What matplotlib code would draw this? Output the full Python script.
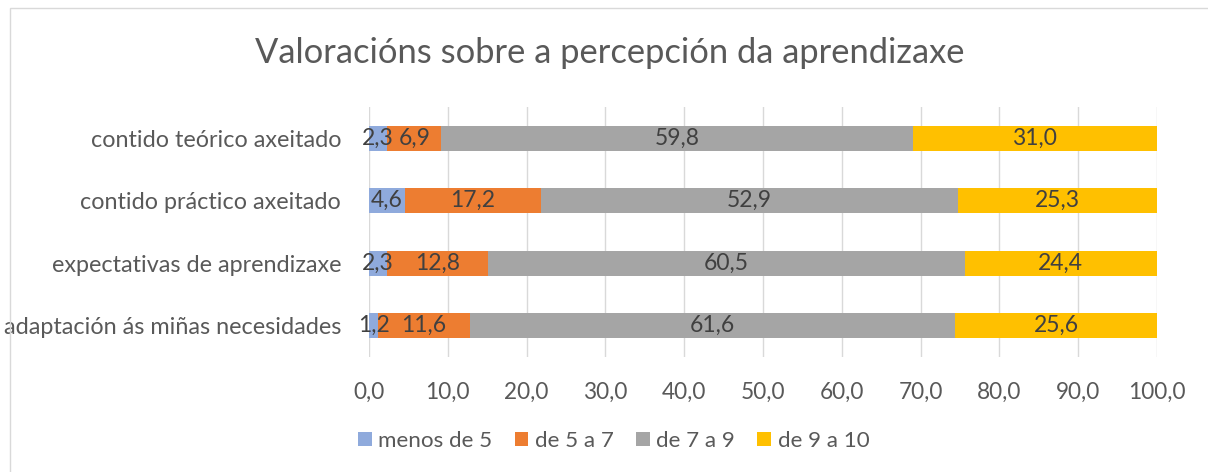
import numpy as np
import matplotlib.pyplot as plt
from matplotlib.patches import Rectangle

categories = ['contido teórico axeitado', 'contido práctico axeitado',
              'expectativas de aprendizaxe', 'adaptación ás miñas necesidades']
series = ['menos de 5', 'de 5 a 7', 'de 7 a 9', 'de 9 a 10']
menos5 = [2.3, 4.6, 2.3, 1.2]
de5a7 = [6.9, 17.2, 12.8, 11.6]
de7a9 = [59.8, 52.9, 60.5, 61.6]
de9a10 = [31.0, 25.3, 24.4, 25.6]
values = [menos5, de5a7, de7a9, de9a10]
colors = ['#8FAADC', '#ED7D31', '#A5A5A5', '#FFC000']
xticks = np.arange(0, 101, 10)

plt.rcParams['font.family'] = ['Lato', 'DejaVu Sans']

fig = plt.figure(figsize=(12.08, 4.72), dpi=100)
fig.patches.append(Rectangle((10/1208, -0.1), 1.2, 1 - 8/472 + 0.1,
                             transform=fig.transFigure, fill=False,
                             edgecolor='#D9D9D9', lw=1))
ax = fig.add_axes([369/1208, 1 - 357/472, 788/1208, 250/472])

y = np.arange(len(categories))
left = np.zeros(len(categories))
for vals, col, name in zip(values, colors, series):
    vals = np.array(vals)
    ax.barh(y, vals, left=left, height=0.4, color=col, label=name, zorder=2)
    for yi, l, v in zip(y, left, vals):
        ax.text(l + v / 2, yi, f'{v:.1f}'.replace('.', ','), ha='center',
                va='center', fontsize=16.5, color='#404040', zorder=3)
    left += vals

ax.set_xlim(0, 100)
ax.set_ylim(3.5, -0.5)
ax.set_xticks(xticks)
ax.set_xticklabels([f'{t:.1f}'.replace('.', ',') for t in xticks])
ax.set_yticks(y)
ax.set_yticklabels(categories)
ax.tick_params(length=0, labelsize=16.3, colors='#595959')
ax.tick_params(axis='y', labelsize=16.8, pad=20)
ax.tick_params(axis='x', pad=18)
ax.grid(axis='x', color='#D9D9D9', lw=1, zorder=0)
for s in ax.spines.values():
    s.set_visible(False)

fig.text(0.505, 1 - 53/472, 'Valoracións sobre a percepción da aprendizaxe',
         ha='center', va='center', fontsize=24.8, color='#595959')
fig.legend(loc='center', bbox_to_anchor=(0.508, 1 - 441/472), ncol=4,
           frameon=False, fontsize=16.1, labelcolor='#595959',
           handlelength=0.6, handleheight=0.6, handletextpad=0.3, columnspacing=1.0)

fig.savefig('out.png', dpi=100)
